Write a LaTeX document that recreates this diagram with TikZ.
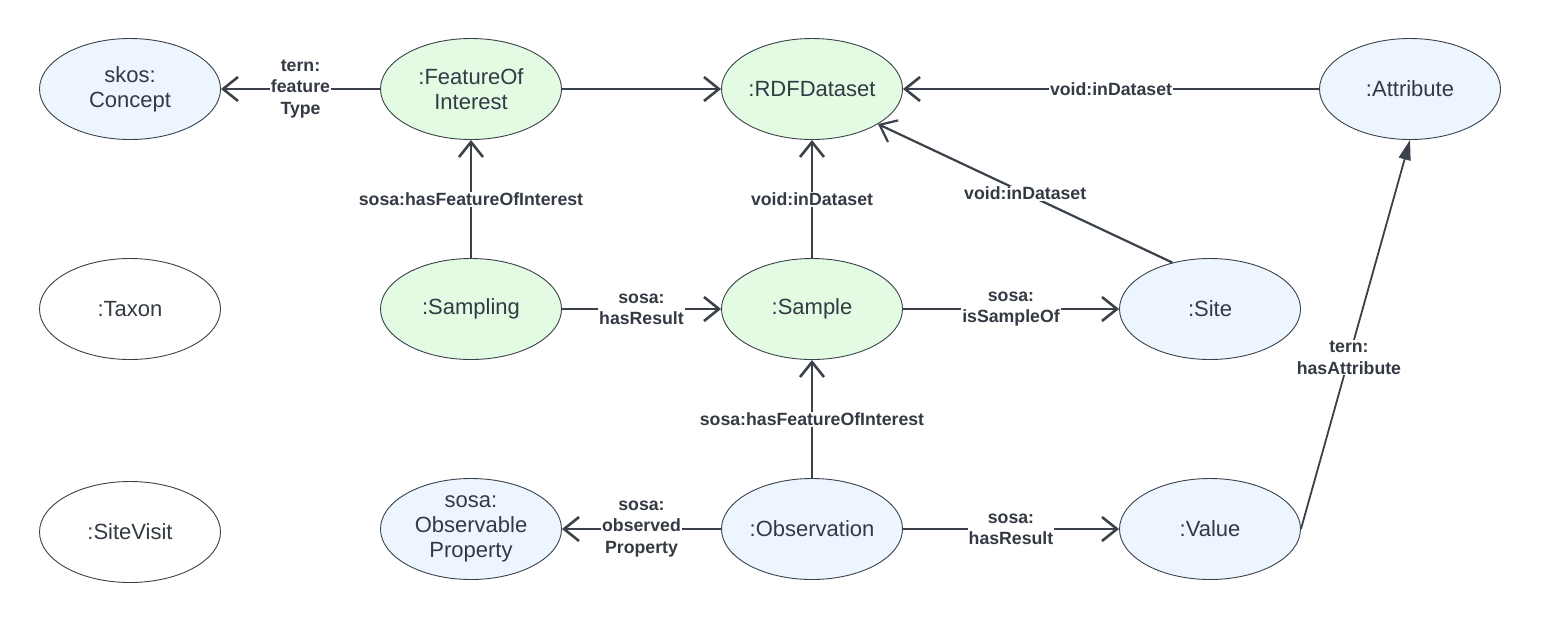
\documentclass[tikz,border=0pt]{standalone}
\usepackage{fontspec}
\setmainfont{Liberation Sans}
\usetikzlibrary{shapes.geometric, arrows.meta, positioning}

\definecolor{linegray}{HTML}{3A414A}
\definecolor{textgray}{HTML}{333A44}
\definecolor{greenfill}{HTML}{E3FAE3}
\definecolor{bluefill}{HTML}{EDF5FF}

\begin{document}
\begin{tikzpicture}[x=1pt, y=-1pt,
    cls/.style={ellipse, draw=linegray, line width=0.9pt, minimum width=181pt,
        minimum height=101pt, inner sep=0pt, align=center, text=textgray,
        font=\fontsize{22}{25}\selectfont},
    grncls/.style={cls, fill=greenfill},
    blucls/.style={cls, fill=bluefill},
    whtcls/.style={cls, fill=white},
    rel/.style={draw=linegray, line width=2.6pt, -{Straight Barb[length=15pt, width=24pt]}},
    prop/.style={fill=white, inner sep=1pt, align=center, text=textgray,
        font=\fontsize{17.7}{21.3}\selectfont\bfseries}]
    % Fixed canvas
    \path[use as bounding box] (0,0) rectangle (1541,625);

    % Classes
    \node[blucls] (concept) at (130,89) {skos:\\Concept};
    \node[grncls] (foi) at (471,89) {:FeatureOf\\Interest};
    \node[grncls] (dataset) at (812,89) {:RDFDataset};
    \node[blucls] (attribute) at (1410,89) {:Attribute};

    \node[whtcls] (taxon) at (130,309) {:Taxon};
    \node[grncls] (sampling) at (471,309) {:Sampling};
    \node[grncls] (sample) at (812,309) {:Sample};
    \node[blucls] (site) at (1210,309) {:Site};

    \node[whtcls] (sitevisit) at (130,532) {:SiteVisit};
    \node[blucls] (obsprop) at (471,529) {sosa:\\Observable\\Property};
    \node[blucls] (observation) at (812,529) {:Observation};
    \node[blucls] (value) at (1210,529) {:Value};

    % Properties
    \draw[rel] (foi) -- node[prop] {tern:\\feature\\Type} (concept);
    \draw[rel] (foi) -- (dataset);
    \draw[rel] (attribute) -- node[prop] {void:inDataset} (dataset);
    \draw[rel] (sampling) -- node[prop] {sosa:hasFeatureOfInterest} (foi);
    \draw[rel] (sample) -- node[prop] {void:inDataset} (dataset);
    \draw[rel, line width=2.2pt] (site.129) -- node[prop] {void:inDataset} (dataset.-28);
    \draw[rel] (sampling) -- node[prop] {sosa:\\hasResult} (sample);
    \draw[rel] (sample) -- node[prop] {sosa:\\isSampleOf} (site);
    \draw[rel] (observation) -- node[prop] {sosa:hasFeatureOfInterest} (sample);
    \draw[rel] (observation) -- node[prop] {sosa:\\observed\\Property} (obsprop);
    \draw[rel] (observation) -- node[prop] {sosa:\\hasResult} (value);
    \draw[draw=linegray, line width=1.8pt, -{Triangle[length=20pt, width=12pt]}]
        (value.east) -- node[prop, pos=0.44] {tern:\\hasAttribute} (attribute.south);
\end{tikzpicture}
\end{document}
